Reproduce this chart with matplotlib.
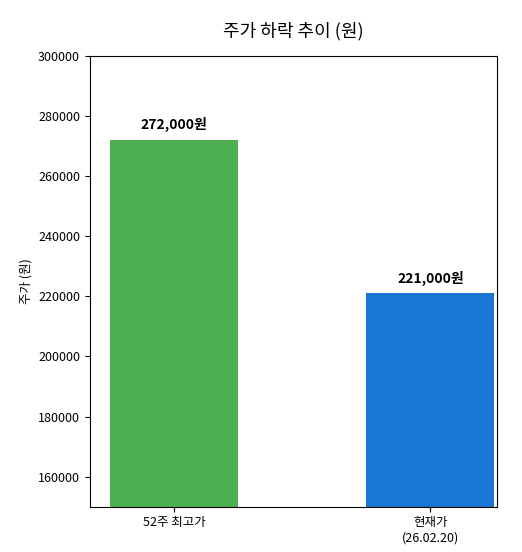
import matplotlib
matplotlib.use("Agg")
import matplotlib.pyplot as plt

plt.rcParams['font.family'] = ['Noto Sans CJK KR', 'DejaVu Sans']

# Data
labels = ["52주 최고가", "현재가\n(26.02.20)"]
prices = [272000, 221000]
colors = ["#4CAF50", "#1976D2"]

fig = plt.figure(figsize=(5.22, 5.52), dpi=100)
ax = fig.add_axes([0.172, 0.082, 0.78, 0.817])

x = range(len(prices))
ax.bar(x, prices, width=0.5, color=colors)
for i, v in zip(x, prices):
    ax.text(i, v + 2500, f"{v:,}원", ha="center", va="bottom",
            fontsize=10, fontweight="bold")

ax.set_xticks(list(x))
ax.set_xticklabels(labels, fontsize=9)
ax.set_xlim(-0.33, 1.26)
ax.set_ylim(150000, 300000)
ax.set_yticks(range(160000, 300001, 20000))
ax.tick_params(axis="y", labelsize=9)
ax.set_ylabel("주가 (원)", fontsize=9)
ax.set_title("주가 하락 추이 (원)", fontsize=13, pad=14)

fig.savefig("out.png", dpi=100)
